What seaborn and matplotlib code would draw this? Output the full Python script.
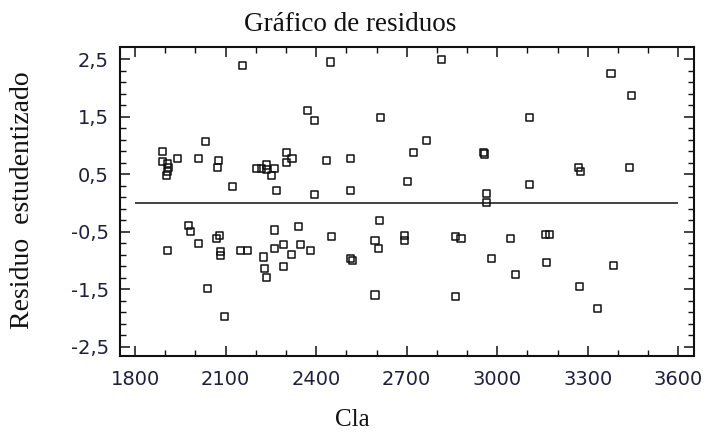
import matplotlib
matplotlib.use("Agg")
import matplotlib.pyplot as plt
import seaborn as sns
import numpy as np
import pandas as pd
from matplotlib.ticker import FixedLocator, MultipleLocator

# ---- data ----
cla_upper = [1890, 1890, 1908, 1910, 1908, 1905, 1940, 2010, 2034, 2076, 2073, 2122, 2157,
             2201, 2220, 2236, 2236, 2253, 2262, 2270, 2303, 2303, 2320, 2372, 2394, 2394,
             2448, 2435, 2515, 2515, 2614, 2815, 2766, 2722, 2702, 2955, 2958, 2963, 2963,
             3108, 3108, 3270, 3276, 3377, 3446, 3438]
res_upper = [0.90, 0.72, 0.68, 0.62, 0.55, 0.47, 0.77, 0.77, 1.06, 0.74, 0.62, 0.28, 2.39,
             0.60, 0.60, 0.66, 0.58, 0.48, 0.60, 0.21, 0.88, 0.70, 0.77, 1.61, 1.44, 0.15,
             2.45, 0.74, 0.77, 0.21, 1.48, 2.49, 1.09, 0.88, 0.38, 0.88, 0.85, 0.16, 0.00,
             1.48, 0.32, 0.61, 0.55, 2.25, 1.86, 0.61]

cla_lower = [1906, 1977, 1983, 2011, 2039, 2069, 2081, 2082, 2082, 2096,
             2150, 2173, 2227, 2229, 2234, 2261, 2261, 2291, 2293, 2318, 2342, 2347, 2382,
             2452, 2515, 2519, 2595, 2609, 2607, 2595, 2693, 2693, 2861, 2880, 2861, 2981,
             3044, 3060, 3160, 3173, 3164, 3273, 3333, 3384]
res_lower = [-0.82, -0.40, -0.50, -0.70, -1.48, -0.62, -0.57, -0.85, -0.91, -1.97,
             -0.83, -0.83, -0.94, -1.14, -1.30, -0.47, -0.79, -1.10, -0.72, -0.90, -0.41, -0.72, -0.82,
             -0.59, -0.96, -1.00, -0.66, -0.30, -0.79, -1.60, -0.57, -0.65, -0.58, -0.62, -1.62, -0.96,
             -0.62, -1.24, -0.55, -0.55, -1.04, -1.46, -1.84, -1.08]

x_ticks = [1800, 2100, 2400, 2700, 3000, 3300, 3600]
y_ticks = [-2.5, -1.5, -0.5, 0.5, 1.5, 2.5]
y_tick_labels = ["-2,5", "-1,5", "-0,5", "0,5", "1,5", "2,5"]
zero_line_range = [1800, 3600]

title = "Gráfico de residuos"
x_label = "Cla"
y_label = "Residuo  estudentizado"

df = pd.DataFrame({"Cla": cla_upper + cla_lower, "Residuo": res_upper + res_lower})

# ---- figure ----
sns.set_theme(style="white")
plt.rcParams["font.family"] = ["DejaVu Sans"]

fig = plt.figure(figsize=(7.08, 4.32), dpi=100)
ax = fig.add_axes([120 / 708, 1 - 356 / 432, (694 - 120) / 708, (356 - 47) / 432])

ax.hlines(0, zero_line_range[0], zero_line_range[1], color="#333333", linewidth=1.3, zorder=1)

sns.scatterplot(data=df, x="Cla", y="Residuo", marker="s", s=26, ax=ax,
                linewidth=1.1, zorder=3)
coll = ax.collections[-1]
coll.set_facecolor("none")
coll.set_edgecolor("#111111")

ax.set_xlim(1750, 3652)
ax.set_ylim(-2.66, 2.71)

ax.xaxis.set_major_locator(FixedLocator(x_ticks))
ax.xaxis.set_minor_locator(MultipleLocator(100))
ax.yaxis.set_major_locator(FixedLocator(y_ticks))
ax.yaxis.set_minor_locator(FixedLocator(list(np.arange(-2.5, 2.6, 0.2))))
ax.set_xticklabels([str(v) for v in x_ticks])
ax.set_yticklabels(y_tick_labels)

tick_color = "#1e1e40"
ax.tick_params(which="both", direction="in", top=True, right=True, bottom=True, left=True,
               color="#111111")
ax.tick_params(which="major", length=7, width=1.1, labelsize=14, labelcolor=tick_color)
ax.tick_params(which="minor", length=4, width=1.0)
ax.tick_params(axis="x", which="major", pad=10)
ax.tick_params(axis="y", which="major", pad=8)

for sp in ax.spines.values():
    sp.set_visible(True)
    sp.set_color("#111111")
    sp.set_linewidth(1.5)

ax.set_xlabel("")
ax.set_ylabel("")

serif = ["Liberation Serif", "DejaVu Serif"]
fig.text(350 / 708, 1 - 31 / 432, title, ha="center", va="baseline",
         family=serif, fontsize=19.5, color="#111111")
fig.text(352 / 708, 1 - 426 / 432, x_label, ha="center", va="baseline",
         family=serif, fontsize=18, color="#111111")
fig.text(23 / 708, 1 - 200 / 432, y_label, ha="center", va="center", rotation=90,
         family=serif, fontsize=20, color="#111111")

fig.savefig("out.png", dpi=100)
